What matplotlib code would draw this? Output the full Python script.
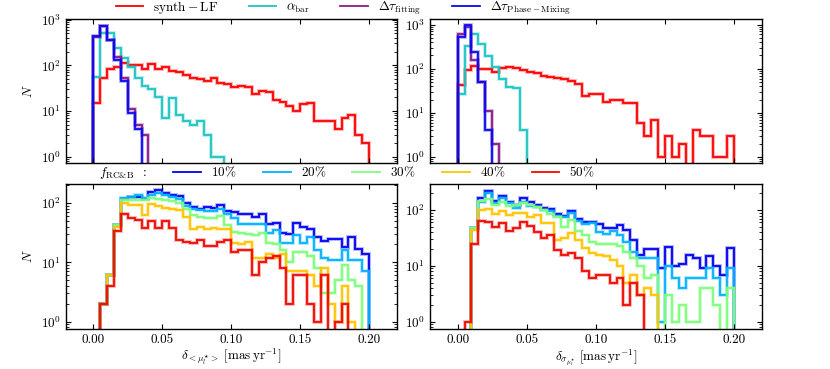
import numpy as np
import matplotlib
matplotlib.use('Agg')
import matplotlib.pyplot as plt
import matplotlib.patheffects as pe
from matplotlib.lines import Line2D
from matplotlib.mathtext import MathTextParser

plt.rcParams.update({
    'font.family': 'serif',
    'font.serif': ['cmr10', 'DejaVu Serif'],
    'mathtext.fontset': 'cm',
    'axes.formatter.use_mathtext': True,
    'axes.unicode_minus': False,
    'font.size': 9.5,
    'xtick.direction': 'in', 'ytick.direction': 'in',
    'xtick.top': True, 'ytick.right': True,
    'xtick.major.size': 3.5, 'ytick.major.size': 3.5,
    'ytick.minor.size': 2, 'xtick.minor.visible': False,
    'axes.linewidth': 1.0,
})

# bin edges (mas/yr), 40 bins of 0.005
edges = np.linspace(0.0, 0.2, 41)

# ---- top row: method comparison ----
# left panel
synth_lf_l = [15, 52, 83, 93, 115, 103, 103, 83, 105, 83, 93, 74, 70, 60, 53, 50, 46, 53, 41, 39,
              34, 36, 34, 23, 28, 26, 17, 16, 13, 10, 14, 15, 6, 6, 6, 4, 7, 8, 3, 2]
alpha_bar_l = [55, 500, 500, 240, 145, 93, 53, 36, 30, 20, 7, 19, 8, 6, 5, 6, 3, 1, 1, 0,
               0, 0, 0, 0, 0, 0, 0, 0, 0, 0, 0, 0, 0, 0, 0, 0, 0, 0, 0, 0]
dtau_fit_l = [420, 720, 350, 155, 52, 11, 5, 3] + [0] * 32
dtau_pm_l = [430, 740, 357, 131, 45, 9, 4] + [0] * 33
# right panel
synth_lf_r = [42, 94, 118, 100, 100, 83, 102, 108, 104, 94, 83, 79, 69, 66, 62, 59, 52, 44, 24, 27,
              27, 18, 20, 20, 17, 17, 6, 3, 7, 1, 3, 1, 2, 0, 4, 3, 3, 1, 1, 3]
alpha_bar_r = [27, 336, 600, 365, 190, 112, 57, 38, 37, 4] + [0] * 30
dtau_fit_r = [600, 900, 159, 51, 11, 2] + [0] * 34
dtau_pm_r = [517, 955, 238, 51, 4] + [0] * 35

top_labels = [r'$\mathrm{synth-LF}$', r'$\alpha_{\mathrm{bar}}$',
              r'$\Delta\tau_{\mathrm{fitting}}$', r'$\Delta\tau_{\mathrm{Phase-Mixing}}$']
top_colors = ['#ff0000', '#1fc4c4', '#8b1a8b', '#0a0aee']

# ---- bottom row: contamination fraction ----
f_labels = [r'$10\%$', r'$20\%$', r'$30\%$', r'$40\%$', r'$50\%$']
f_colors = [plt.cm.jet(v) for v in (0.1, 0.3, 0.5, 0.7, 0.9)]

mean_f10 = [0, 2, 6, 43, 115, 126, 126, 115, 153, 163, 149, 138, 131, 98, 86, 80, 86, 82, 91, 72,
            71, 65, 65, 58, 65, 44, 45, 31, 30, 45, 39, 37, 27, 23, 25, 25, 18, 27, 17, 14]
mean_f20 = [0, 2, 6, 43, 120, 128, 136, 121, 138, 149, 138, 126, 115, 89, 78, 75, 72, 72, 78, 66,
            55, 44, 44, 44, 44, 31, 35, 21, 21, 29, 21, 27, 16, 12, 11, 11, 16, 11, 11, 7]
mean_f30 = [0, 2, 6, 43, 110, 110, 110, 110, 121, 118, 110, 107, 98, 80, 62, 58, 56, 56, 60, 43,
            32, 31, 30, 29, 31, 21, 20, 16, 10, 15, 15, 13, 8, 3, 3, 5, 9, 5, 4, 0]
mean_f40 = [0, 2, 6, 40, 98, 91, 91, 63, 94, 89, 83, 78, 75, 57, 37, 40, 36, 38, 36, 37,
            21, 20, 22, 12, 12, 14, 12, 14, 7, 7, 7, 6, 4, 8, 2, 1, 4, 1, 0, 0]
mean_f50 = [0, 2, 4, 33, 64, 56, 51, 38, 49, 38, 49, 38, 24, 22, 21, 24, 19, 19, 22, 24,
            15, 16, 16, 6, 10, 12, 13, 8, 2, 6, 6, 2, 1, 6, 0, 1, 2, 0, 0, 0]

sig_f10 = [0, 0, 47, 162, 223, 147, 178, 141, 123, 162, 141, 123, 107, 103, 85, 78, 97, 68, 62, 62,
           56, 47, 47, 54, 44, 29, 16, 20, 20, 9, 22, 10, 11, 16, 14, 9, 15, 10, 7, 21]
sig_f20 = [0, 0, 47, 141, 200, 132, 162, 132, 111, 141, 118, 115, 100, 97, 78, 74, 87, 64, 56, 58,
           41, 38, 43, 36, 27, 18, 14, 14, 14, 1, 10, 6, 4, 6, 6, 6, 9, 6, 3, 9]
sig_f30 = [0, 0, 47, 147, 155, 123, 141, 119, 123, 135, 123, 114, 100, 85, 76, 50, 66, 43, 36, 27,
           25, 25, 25, 23, 18, 14, 10, 6, 7, 0, 3, 1, 2, 1, 1, 4, 4, 2, 0, 4]
sig_f40 = [0, 0, 44, 100, 104, 85, 97, 81, 87, 89, 76, 81, 58, 58, 29, 32, 39, 29, 21, 17,
           16, 15, 13, 10, 5, 7, 3, 4, 3, 0, 0, 0, 0, 0, 0, 0, 0, 0, 0, 0]
sig_f50 = [0, 1, 25, 65, 62, 50, 58, 43, 47, 62, 52, 41, 32, 36, 19, 16, 17, 14, 8, 6,
           7, 7, 5, 6, 2, 5, 3, 0, 0, 0, 0, 0, 0, 0, 0, 0, 0, 0, 0, 0]


def step(ax, vals, color):
    ax.stairs(vals, edges, baseline=0, color=color, lw=1.3,
              path_effects=[pe.Stroke(linewidth=2.8, foreground=color, alpha=0.3), pe.Normal()])


def pick_label(cands):
    parser = MathTextParser('path')
    for s in cands:
        try:
            parser.parse(s)
            return s
        except Exception:
            continue
    return cands[-1]


fig = plt.figure(figsize=(8.3, 3.69), dpi=100)
ax_tl = fig.add_axes([0.0792, 0.5583, 0.3988, 0.3902])
ax_tr = fig.add_axes([0.5181, 0.5583, 0.3996, 0.3902])
ax_bl = fig.add_axes([0.0792, 0.1084, 0.3988, 0.3930])
ax_br = fig.add_axes([0.5181, 0.1084, 0.3996, 0.3930])

for vals, c in zip([synth_lf_l, alpha_bar_l, dtau_fit_l, dtau_pm_l], top_colors):
    step(ax_tl, vals, c)
for vals, c in zip([synth_lf_r, alpha_bar_r, dtau_fit_r, dtau_pm_r], top_colors):
    step(ax_tr, vals, c)
for vals, c in zip([mean_f10, mean_f20, mean_f30, mean_f40, mean_f50], f_colors):
    step(ax_bl, vals, c)
for vals, c in zip([sig_f10, sig_f20, sig_f30, sig_f40, sig_f50], f_colors):
    step(ax_br, vals, c)

for ax in (ax_tl, ax_tr, ax_bl, ax_br):
    ax.set_yscale('log')
    ax.set_xlim(-0.02, 0.22)
    ax.set_xticks([0.0, 0.05, 0.10, 0.15, 0.20])
    ax.set_xticklabels(['0.00', '0.05', '0.10', '0.15', '0.20'])

ax_tl.set_ylim(0.73, 1030)
ax_tr.set_ylim(0.73, 1340)
ax_bl.set_ylim(0.753, 208)
ax_br.set_ylim(0.74, 294)
ax_tl.tick_params(labelbottom=False)
ax_tr.tick_params(labelbottom=False)

ax_tl.set_ylabel(r'$N$')
ax_bl.set_ylabel(r'$N$')
ax_bl.set_xlabel(r'$\delta_{<\mu_l^{\star}>}\ [\mathrm{mas\,yr^{-1}}]$', labelpad=1)
ax_br.set_xlabel(r'$\delta_{\sigma_{\mu_l^{\star}}}\ [\mathrm{mas\,yr^{-1}}]$', labelpad=1)

top_handles = [Line2D([], [], color=c, lw=1.3) for c in top_colors]
fig.legend(top_handles, top_labels, loc='center', bbox_to_anchor=(343 / 830, 1 - 8 / 369),
           ncol=4, frameon=False, handlelength=2.1, handletextpad=0.76, columnspacing=2.3,
           borderpad=0)

f_title = pick_label([r'$f_{\mathrm{RC&B}}$  :', r'$f_{\mathrm{RC}&\mathrm{B}}$  :',
                      r'$f_{\mathrm{RC\&B}}$  :', r'$f_{\mathrm{RC}}$&$_{\mathrm{B}}$  :'])
bot_handles = [Line2D([], [], color='none')] + [Line2D([], [], color=c, lw=1.3) for c in f_colors]
bot_labels = [f_title] + f_labels
fig.legend(bot_handles, bot_labels, loc='center', bbox_to_anchor=(328 / 830, 1 - 173 / 369),
           ncol=6, frameon=False, handlelength=2.1, handletextpad=0.76, columnspacing=2.0,
           borderpad=0)

fig.savefig('out.png', dpi=100)
